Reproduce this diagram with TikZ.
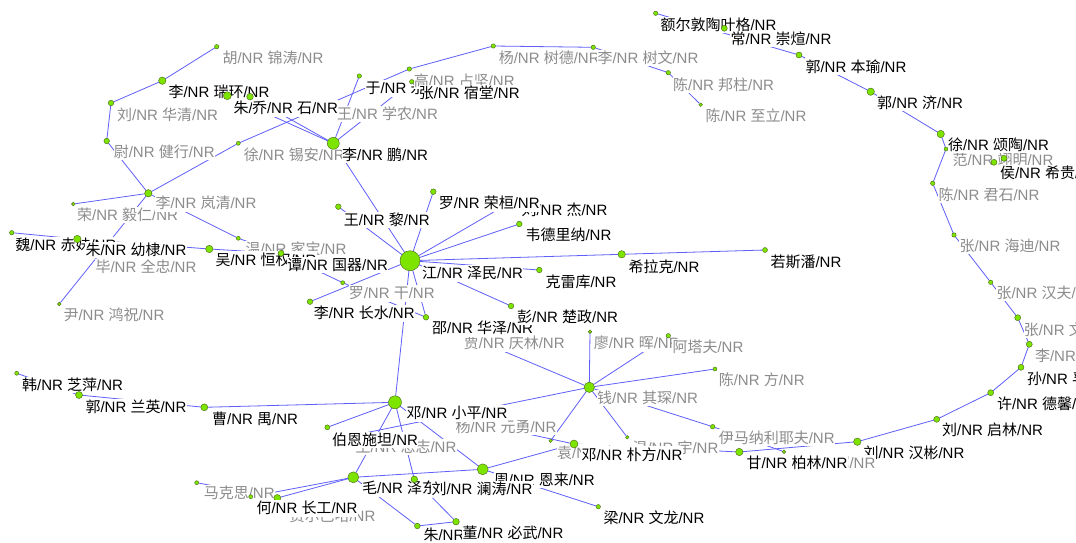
\documentclass[tikz,border=0pt]{standalone}
\usepackage{fontspec}
\setmainfont{Liberation Sans}
\newfontfamily\cjk{Noto Sans CJK SC}
\pgfdeclarelayer{edgelayer}
\pgfsetlayers{edgelayer,main}
\definecolor{nodegreen}{RGB}{125,228,0}
\definecolor{nodeedge}{RGB}{70,100,20}
\definecolor{edgeblue}{RGB}{95,95,250}
\definecolor{labgray}{RGB}{140,140,140}
\newcommand{\nm}[2]{{\cjk #1}/NR {\cjk #2}/NR}
\newcommand{\nmo}[1]{{\cjk #1}/NR}
\tikzset{
 gdot/.style={circle, fill=nodegreen, draw=nodeedge, line width=0.4pt, inner sep=0pt, outer sep=0pt},
 lbl/.style={anchor=west, fill=white, inner xsep=0.3pt, inner ysep=2.2pt, text height=11.5pt, text depth=0.5pt, font=\fontsize{15}{17}\selectfont},
 blk/.style={lbl, text=black},
 gry/.style={lbl, text=labgray},
 linkline/.style={draw=edgeblue, line width=0.8pt},
}
\newcommand{\pn}[8]{\node[gdot, minimum size={2*#4pt}] (#1) at (#2,#3) {};\node[#7] (#1l) at (#5,#6) {#8};}
\begin{document}
\begin{tikzpicture}[x=1pt,y=-1pt]
\useasboundingbox (0,0) rectangle (1076,543);
\clip (0,0) rectangle (1076,543);
\pn{lrh}{162.3}{80.7}{3.7}{168}{92}{blk}{\nm{李}{瑞环}}
\pn{zrj}{227.3}{95.7}{4}{233}{108}{blk}{\nm{朱}{镕基}}
\pn{wxn}{331}{103}{2}{336.5}{114}{gry}{\nm{王}{学农}}
\pn{qs}{250}{96.7}{3.3}{251.5}{108.3}{blk}{\nm{乔}{石}}
\pn{hjt}{216.7}{46.7}{2.2}{222}{58}{gry}{\nm{胡}{锦涛}}
\pn{lhq}{111}{103}{2.8}{116.7}{115}{gry}{\nm{刘}{华清}}
\pn{wjx}{106.7}{141}{2.8}{113.3}{152}{gry}{\nm{尉}{健行}}
\pn{xxa}{238.3}{143.3}{2}{243.3}{155}{gry}{\nm{徐}{锡安}}
\pn{lp}{333.3}{143.3}{6}{341.7}{155}{blk}{\nm{李}{鹏}}
\pn{yyb}{359.3}{76}{2.2}{365}{88.3}{blk}{\nm{于}{永波}}
\pn{gx}{409.3}{69}{2.2}{413.3}{81}{gry}{\nm{高}{占坚}}
\pn{zst}{411.7}{81.7}{2.2}{418.3}{92.7}{blk}{\nm{张}{宿堂}}
\pn{ysd}{493.3}{46}{2.2}{498.3}{58.3}{gry}{\nm{杨}{树德}}
\pn{lsw}{593.3}{47.3}{2.2}{597}{58.3}{gry}{\nm{李}{树文}}
\pn{cbz}{668.3}{72.7}{2.2}{672.7}{85}{gry}{\nm{陈}{邦柱}}
\pn{czl}{700.7}{104.7}{1.8}{705}{116}{gry}{\nm{陈}{至立}}
\pn{ee}{655.7}{13.3}{2.2}{660}{25}{blk}{\nmo{额尔敦陶叶格}}
\pn{ccx}{724.3}{28.3}{3}{730}{39}{blk}{\nm{常}{崇煊}}
\pn{gby}{799}{55}{3}{805}{66.7}{blk}{\nm{郭}{本瑜}}
\pn{gj}{870.7}{91.7}{3.7}{876.7}{103}{blk}{\nm{郭}{济}}
\pn{fan}{946}{149}{2}{952}{160}{gry}{\nm{范}{翊明}}
\pn{xst}{940.7}{134}{3.7}{947.5}{145}{blk}{\nm{徐}{颂陶}}
\node[gdot, minimum size=6pt] (ptwo) at (1004,158.3) {};
\pn{hxg}{994}{162.3}{3}{999.5}{173}{blk}{\nm{侯}{希贵}}
\pn{cjs}{932.7}{183.3}{2.2}{938}{195}{gry}{\nm{陈}{君石}}
\pn{zhd}{954}{235}{2.2}{959}{246}{gry}{\nm{张}{海迪}}
\pn{zhf}{990.7}{282.3}{2.2}{996}{293}{gry}{\nm{张}{汉夫}}
\pn{zwb}{1017.7}{317.7}{3}{1023.3}{329.5}{gry}{\nm{张}{文彬}}
\pn{lx}{1029.3}{344.3}{3}{1034.5}{356}{gry}{\nm{李}{沛瑶}}
\pn{sfl}{1021}{367.3}{3}{1026.5}{379}{blk}{\nm{孙}{孚凌}}
\pn{xdx}{990.7}{392.7}{3}{996.5}{404}{blk}{\nm{许}{德馨}}
\pn{lql}{936.7}{419.3}{3}{941.7}{430}{blk}{\nm{刘}{启林}}
\pn{lhb}{857.3}{441.7}{3.7}{863}{452.7}{blk}{\nm{刘}{汉彬}}
\pn{wj}{784}{451.7}{1.8}{789}{463}{gry}{\nm{王}{军}}
\pn{gbl}{739.3}{452}{3.7}{746}{463}{blk}{\nm{甘}{柏林}}
\pn{ymn}{712.7}{426.7}{2.3}{718.3}{437.5}{gry}{\nmo{伊马纳利耶夫}}
\pn{cf}{715}{369}{2}{718.3}{380}{gry}{\nm{陈}{方}}
\pn{lh}{590}{331.7}{1.8}{593.3}{343.3}{gry}{\nm{廖}{晖}}
\pn{atf}{668.3}{335.7}{2.2}{672}{346.7}{gry}{\nmo{阿塔夫}}
\pn{wy}{627.3}{437.3}{1.8}{632}{448}{gry}{\nm{温}{宇}}
\pn{ym}{550.7}{440.7}{1.8}{556.7}{452.5}{gry}{\nm{袁}{木}}
\pn{dpf}{574}{444}{4}{581}{454.5}{blk}{\nm{邓}{朴方}}
\pn{qqc}{589.3}{387.3}{5.2}{596.7}{398}{gry}{\nm{钱}{其琛}}
\pn{jql}{458}{332}{2}{463.3}{343.3}{gry}{\nm{贾}{庆林}}
\pn{shz}{426}{317.3}{2.8}{431.7}{328.3}{blk}{\nm{邵}{华泽}}
\pn{pcz}{511}{306}{2.8}{516.7}{316.7}{blk}{\nm{彭}{楚政}}
\pn{klk}{539.3}{270}{2.8}{545}{281.7}{blk}{\nmo{克雷库}}
\pn{xlk}{621.7}{254.3}{3.7}{628}{266.5}{blk}{\nmo{希拉克}}
\pn{rsp}{765}{250}{2.5}{770}{261.7}{blk}{\nmo{若斯潘}}
\pn{wdln}{519.3}{224}{2.8}{525}{235}{blk}{\nmo{韦德里纳}}
\pn{lj}{516}{199}{2.2}{521}{210}{blk}{\nm{刘}{杰}}
\pn{lrhn}{433.3}{191.7}{2.8}{438.3}{203.3}{blk}{\nm{罗}{荣桓}}
\pn{wl}{338.3}{206.7}{2.8}{343.3}{220}{blk}{\nm{王}{黎}}
\pn{jzm}{410}{260.7}{10}{421.7}{273.3}{blk}{\nm{江}{泽民}}
\pn{lg}{342.7}{282.7}{2}{348.3}{293.3}{gry}{\nm{罗}{干}}
\pn{lcs}{310}{301.7}{2.8}{313.3}{313.3}{blk}{\nm{李}{长水}}
\pn{bqz}{90}{254}{2}{95}{266.7}{gry}{\nm{毕}{全忠}}
\pn{wei}{11.7}{232.7}{2.2}{15}{245}{blk}{\nm{魏}{赤妹}}
\pn{zyd}{77.3}{239}{3.7}{85}{250}{blk}{\nm{朱}{幼棣}}
\pn{ryr}{73.3}{204}{1.8}{76.7}{215}{gry}{\nm{荣}{毅仁}}
\pn{llq}{148.3}{193.3}{3.7}{155}{203.3}{gry}{\nm{李}{岚清}}
\pn{yhz}{59.3}{304}{1.8}{63}{315}{gry}{\nm{尹}{鸿祝}}
\pn{wjb}{238.3}{238.3}{2}{245}{249}{gry}{\nm{温}{家宝}}
\pn{whq}{209.3}{249}{3.7}{215}{259.5}{blk}{\nm{吴}{恒权}}
\pn{tgq}{281}{253.3}{3}{286.7}{265}{blk}{\nm{谭}{国器}}
\pn{hzp}{16.7}{373.3}{2}{21.7}{385}{blk}{\nm{韩}{芝萍}}
\pn{gly}{79}{395}{3.5}{85}{407.3}{blk}{\nm{郭}{兰英}}
\pn{cy}{204.3}{407.3}{3.5}{211.7}{419}{blk}{\nm{曹}{禺}}
\pn{yyy}{450}{417}{2}{455}{426.5}{gry}{\nm{杨}{元勇}}
\pn{dxp}{395}{402.3}{6.5}{406}{413.3}{blk}{\nm{邓}{小平}}
\pn{hz}{350}{436}{2}{355}{447}{gry}{\nm{王}{恩志}}
\pn{best}{327.3}{427.3}{2.5}{331.7}{440}{blk}{\nmo{伯恩施坦}}
\pn{mks}{196.7}{482.7}{2}{203.3}{493.3}{gry}{\nmo{马克思}}
\pn{febh}{277.3}{498}{3.5}{289}{516}{gry}{\nmo{费尔巴哈}}
\pn{hcg}{250.7}{496.7}{2}{256}{508.3}{blk}{\nm{何}{长工}}
\pn{zel}{482.7}{469.3}{5.5}{493.3}{480}{blk}{\nm{周}{恩来}}
\pn{mzd}{353.3}{477.3}{5.5}{361.7}{488.3}{blk}{\nm{毛}{泽东}}
\pn{llt}{414.3}{479.3}{3.3}{431}{489.3}{blk}{\nm{刘}{澜涛}}
\pn{zd}{417.3}{526}{2.8}{423}{535}{blk}{\nm{朱}{德}}
\pn{dbw}{456}{521.7}{3.3}{462}{533.3}{blk}{\nm{董}{必武}}
\pn{lwl}{598.3}{506.7}{2.2}{603}{518.3}{blk}{\nm{梁}{文龙}}
\begin{pgfonlayer}{edgelayer}
\fill[white] (0,0) rectangle (1076,543);
\foreach \a/\b in {hjt/lrh, lrh/lhq, lhq/wjx, wjx/llq, llq/ryr, llq/wjb, wjb/tgq, llq/yhz, llq/xxa, xxa/gx, gx/ysd, ysd/lsw, lsw/cbz, cbz/czl,
  zrj/lp, qs/lp, yyb/lp, zst/lp, lp/jzm, jzm/wl, jzm/lrhn, jzm/lj, jzm/wdln, jzm/xlk, xlk/rsp, jzm/klk, jzm/pcz, jzm/shz, jzm/lcs, jzm/dxp,
  tgq/lg, lg/shz, whq/tgq, zyd/whq, wei/zyd,
  dxp/cy, cy/gly, gly/hzp, dxp/best, dxp/zel, dxp/mzd, dxp/llt, mzd/zel, zel/dpf, zel/lwl, mzd/zd, zd/dbw, llt/dbw, mks/febh, hcg/mzd, febh/mzd,
  qqc/lh, qqc/atf, qqc/cf, qqc/ymn, ymn/wj, qqc/wy, qqc/ym, qqc/hz, qqc/jql, yyy/dpf, dpf/gbl,
  gbl/lhb, lhb/lql, lql/xdx, xdx/sfl, sfl/lx, lx/zwb, zwb/zhf, zhf/zhd, zhd/cjs, cjs/fan, fan/xst, xst/gj, gj/gby, gby/ee, fan/hxg, hxg/ptwo, fan/ptwo}
  {\draw[linkline] (\a) -- (\b);}
\end{pgfonlayer}
\end{tikzpicture}
\end{document}
